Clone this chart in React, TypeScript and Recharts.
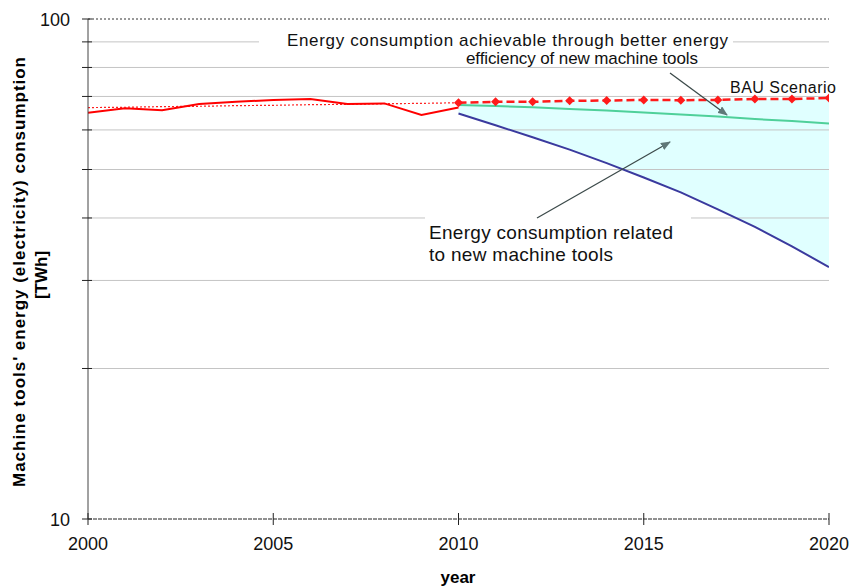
import React from "react";
import { ComposedChart, Line, Area, XAxis, YAxis, ReferenceLine } from "recharts";

// 2000-2010 history and 2010-2020 projections (TWh)
const years = [
  2000, 2001, 2002, 2003, 2004, 2005, 2006, 2007, 2008, 2009, 2010,
  2011, 2012, 2013, 2014, 2015, 2016, 2017, 2018, 2019, 2020,
];
const actual = [64.9, 66.3, 65.7, 67.6, 68.3, 68.9, 69.2, 67.6, 67.8, 64.3, 66.5];
const trend = [66.5, 66.6, 66.8, 66.9, 67.1, 67.2, 67.4, 67.5, 67.7, 67.8, 68.0];
const bau = [68.0, 68.3, 68.3, 68.6, 68.7, 68.9, 68.8, 68.9, 69.2, 69.2, 69.5];
const efficient = [67.3, 67.0, 66.6, 66.1, 65.6, 65.0, 64.4, 63.8, 63.1, 62.5, 61.8];
const newTools = [64.7, 61.3, 58.0, 54.8, 51.5, 48.2, 45.0, 41.6, 38.4, 35.1, 31.9];

const xTicks = [2000, 2005, 2010, 2015, 2020];
const yTicks = [10, 20, 30, 40, 50, 60, 70, 80, 90, 100];
const gridValues = [20, 30, 40, 50, 60, 70, 80, 90];

const FONT = "'Liberation Sans', Arial, sans-serif";

const data = years.map((year, i) => {
  const j = i - 10;
  const proj = j >= 0;
  return {
    year,
    actual: i < actual.length ? actual[i] : null,
    trend: i < trend.length ? trend[i] : null,
    bau: proj ? bau[j] : null,
    efficient: proj ? efficient[j] : null,
    newTools: proj ? newTools[j] : null,
    band: proj ? [newTools[j], bau[j]] : null,
  };
});

const XTick = (props: any) => {
  const { x, y, payload } = props;
  return (
    <g>
      <line x1={x} x2={x} y1={y - 6} y2={y + 6} stroke="#222" />
      <text x={x} y={y + 31} textAnchor="middle" fontSize={18} fill="#111" fontFamily={FONT}>
        {payload.value}
      </text>
    </g>
  );
};

const YTick = (props: any) => {
  const { x, y, payload } = props;
  const v = payload.value;
  return (
    <g>
      <line x1={x - 6} x2={x + 4} y1={y} y2={y} stroke="#222" />
      {(v === 10 || v === 100) && (
        <text x={x - 18} y={y + 7} textAnchor="end" fontSize={18} fill="#111" fontFamily={FONT}>
          {v}
        </text>
      )}
    </g>
  );
};

const Diamond = (props: any) => {
  const { cx, cy, index } = props;
  if (cx == null || cy == null) return <g key={`d${index}`} />;
  const s = 4.5;
  return (
    <path
      key={`d${index}`}
      d={`M${cx},${cy - s}L${cx + s},${cy}L${cx},${cy + s}L${cx - s},${cy}Z`}
      fill="#ff1a1a"
    />
  );
};

const Annotations = () => (
  <svg
    width={851}
    height={587}
    style={{ position: "absolute", left: 0, top: 0, pointerEvents: "none" }}
    fontFamily={FONT}
  >
    <defs>
      <marker id="arr" markerWidth="10" markerHeight="8" refX="9" refY="4" orient="auto" markerUnits="userSpaceOnUse">
        <path d="M0,0L10,4L0,8Z" fill="#5f7878" />
      </marker>
    </defs>
    <rect x={259} y={30} width={474} height={35} fill="#fff" />
    <rect x={425} y={212} width={266} height={58} fill="#fff" />
    <text x={287} y={46} fontSize={17} fill="#111" textLength={441} lengthAdjust="spacing">
      Energy consumption achievable through  better energy
    </text>
    <text x={466} y={64} fontSize={17} fill="#111" textLength={232} lengthAdjust="spacing">
      efficiency of new machine tools
    </text>
    <text x={730} y={93} fontSize={16} fill="#111" textLength={106} lengthAdjust="spacing">
      BAU Scenario
    </text>
    <text x={429} y={239} fontSize={19} fill="#111" textLength={244} lengthAdjust="spacing">
      Energy consumption related
    </text>
    <text x={429} y={261} fontSize={19} fill="#111" textLength={184} lengthAdjust="spacing">
      to new machine tools
    </text>
    <line x1={670} y1={73} x2={727} y2={115} stroke="#3c4a4a" strokeWidth={1.3} markerEnd="url(#arr)" />
    <line x1={537} y1={218} x2={670} y2={142} stroke="#3c4a4a" strokeWidth={1.3} markerEnd="url(#arr)" />
    <text
      transform="translate(25,272) rotate(-90)"
      textAnchor="middle"
      fontSize={17}
      fontWeight="bold"
      fill="#000"
      textLength={430}
      lengthAdjust="spacing"
    >
      Machine tools' energy (electricity) consumption
    </text>
    <text transform="translate(47,275) rotate(-90)" textAnchor="middle" fontSize={17} fontWeight="bold" fill="#000">
      [TWh]
    </text>
    <text x={458} y={583} textAnchor="middle" fontSize={17} fontWeight="bold" fill="#000">
      year
    </text>
  </svg>
);

export default function App() {
  return (
    <div style={{ position: "absolute", left: 0, top: 0, width: 851, height: 587, background: "#fff" }}>
      <ComposedChart
        width={851}
        height={587}
        data={data}
        margin={{ top: 19, right: 22, bottom: 28, left: 18 }}
      >
        {gridValues.map((v) => (
          <ReferenceLine key={v} y={v} stroke="#c4c4c4" strokeWidth={1} />
        ))}
        <ReferenceLine y={100} stroke="#333" strokeDasharray="2 2" />
        <XAxis
          dataKey="year"
          type="number"
          domain={[2000, 2020]}
          ticks={xTicks}
          interval={0}
          allowDataOverflow
          height={40}
          tickSize={0}
          tickMargin={0}
          tickLine={false}
          axisLine={{ stroke: "#222", strokeDasharray: "4 1" }}
          tick={<XTick />}
        />
        <YAxis
          type="number"
          scale="log"
          domain={[10, 100]}
          ticks={yTicks}
          interval={0}
          allowDataOverflow
          width={70}
          tickSize={0}
          tickMargin={0}
          tickLine={false}
          axisLine={{ stroke: "#444" }}
          tick={<YTick />}
        />
        <Area
          dataKey="band"
          type="linear"
          stroke="none"
          fill="#e0ffff"
          fillOpacity={1}
          isAnimationActive={false}
          connectNulls={false}
        />
        <Line
          dataKey="trend"
          type="linear"
          stroke="#ff2020"
          strokeWidth={1.2}
          strokeDasharray="2 2"
          dot={false}
          isAnimationActive={false}
        />
        <Line
          dataKey="actual"
          type="linear"
          stroke="#ff0000"
          strokeWidth={2}
          dot={false}
          isAnimationActive={false}
        />
        <Line
          dataKey="newTools"
          type="linear"
          stroke="#3a3a9e"
          strokeWidth={2}
          dot={false}
          isAnimationActive={false}
        />
        <Line
          dataKey="efficient"
          type="linear"
          stroke="#4fd09a"
          strokeWidth={2}
          dot={false}
          isAnimationActive={false}
        />
        <Line
          dataKey="bau"
          type="linear"
          stroke="#ff1a1a"
          strokeWidth={2.5}
          strokeDasharray="8 4"
          dot={Diamond}
          isAnimationActive={false}
        />
      </ComposedChart>
      <Annotations />
    </div>
  );
}
